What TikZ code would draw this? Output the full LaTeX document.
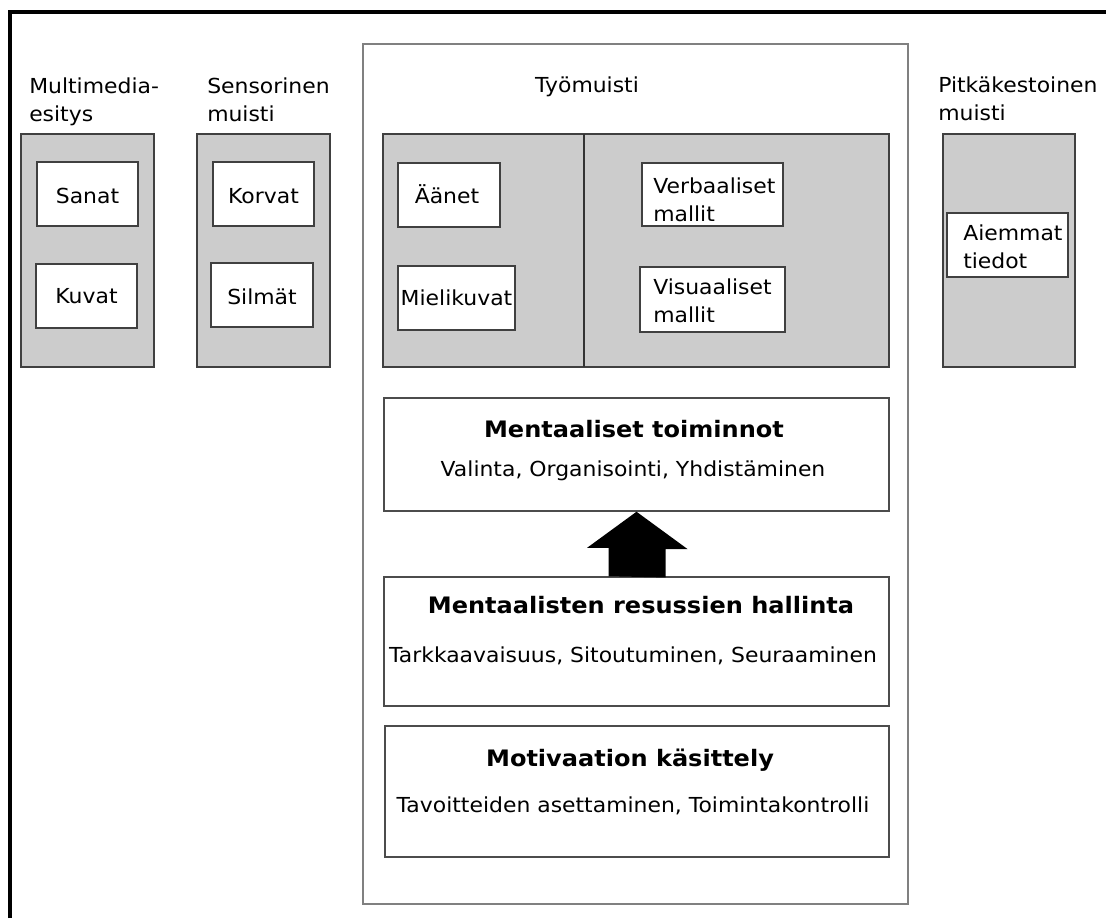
\documentclass[tikz,border=0pt]{standalone}
\usepackage{fontspec}
\setmainfont{DejaVu Sans}[FakeStretch=1.06]
\usetikzlibrary{fit,calc}
\begin{document}
\begin{tikzpicture}[x=0.75pt,y=-0.75pt,
  txt/.style={font=\fontsize{15.5}{21}\selectfont, inner sep=0pt, align=left},
  ttl/.style={font=\bfseries\fontsize{17}{20}\selectfont, inner sep=0pt},
  graybox/.style={draw=black!75, fill=black!20, line width=1.1pt, inner sep=0pt},
  wbox/.style={draw=black!75, fill=white, line width=1.1pt, inner sep=0pt},
  bigbox/.style={draw=black!50, line width=1.1pt, inner sep=0pt},
  panel/.style={draw=black!70, fill=white, line width=1.1pt, inner sep=0pt},
  divider/.style={draw=black!80, line width=1pt},
  frameline/.style={draw=black, line width=3pt}]
\useasboundingbox (0,0) rectangle (1106,918);
\fill[white] (0,0) rectangle (1106,918);
% outer frame (top and left)
\draw[frameline] (10,918) -- (10,12) -- (1106,12);

% column labels (base anchor = baseline of the last line)
\node[txt, anchor=base west] (lmm) at (29,121) {Multimedia-\\esitys};
\node[txt, anchor=base west] (lsm) at (207,121) {Sensorinen\\muisti};
\node[txt, anchor=base] (lwm) at (587,92) {Työmuisti};
\node[txt, anchor=base west] (lltm) at (938,120) {Pitkäkestoinen\\muisti};

% working memory outer box
\node[bigbox, fit={(363,44) (908,904)}] (wm) {};

% gray containers
\node[graybox, fit={(21,134) (154,367)}] (mm) {};
\node[graybox, fit={(197,134) (330,367)}] (sm) {};
\node[graybox, fit={(383,134) (889,367)}] (wmg) {};
\node[graybox, fit={(943,134) (1075,367)}] (ltm) {};
\draw[divider] (584,134) -- (584,367);

% inner boxes
\node[wbox, fit={(37,162) (138,226)}] (sanat) {};
\node[txt, anchor=base] (sanatt) at (87.5,203) {Sanat};
\node[wbox, fit={(36,264) (137,328)}] (kuvat) {};
\node[txt, anchor=base] (kuvatt) at (86.5,303) {Kuvat};
\node[wbox, fit={(213,162) (314,226)}] (korvat) {};
\node[txt, anchor=base] (korvatt) at (263.5,203) {Korvat};
\node[wbox, fit={(211,263) (313,327)}] (silmat) {};
\node[txt, anchor=base] (silmatt) at (262,304) {Silmät};
\node[wbox, fit={(398,163) (500,227)}] (aanet) {};
\node[txt, anchor=base] (aanett) at (447,203) {Äänet};
\node[wbox, fit={(398,266) (515,330)}] (mieli) {};
\node[txt, anchor=base] (mielit) at (456.5,305) {Mielikuvat};
\node[wbox, fit={(642,163) (783,226)}] (verb) {};
\node[txt, anchor=base west] (verbt) at (653,221) {Verbaaliset\\mallit};
\node[wbox, fit={(640,267) (785,332)}] (visu) {};
\node[txt, anchor=base west] (visut) at (653,322) {Visuaaliset\\mallit};
\node[wbox, fit={(947,213) (1068,277)}] (aiem) {};
\node[txt, anchor=base west] (aiemt) at (963,268) {Aiemmat\\tiedot};

% lower panels
\node[panel, fit={(384,398) (889,511)}] (mt) {};
\node[ttl, anchor=base] (mtt) at (634,437) {Mentaaliset toiminnot};
\node[txt, anchor=base] (mts) at (633,476) {Valinta, Organisointi, Yhdistäminen};

\node[panel, fit={(384,577) (889,706)}] (mrh) {};
\node[ttl, anchor=base] (mrht) at (641,613) {Mentaalisten resussien hallinta};
\node[txt, anchor=base] (mrhs) at (633,662) {Tarkkaavaisuus, Sitoutuminen, Seuraaminen};

\node[panel, fit={(385,726) (889,857)}] (mk) {};
\node[ttl, anchor=base] (mkt) at (630,766) {Motivaation käsittely};
\node[txt, anchor=base] (mks) at (633,812) {Tavoitteiden asettaminen, Toimintakontrolli};

% block arrow
\fill[black] (mrh.north) ++(-28,0) -- ++(0,-28.4) -- ++(-21.5,0) -- (mt.south)
  -- ++(51,37.3) -- ++(-22,0) -- ++(0,28.4) -- cycle;
\end{tikzpicture}
\end{document}
